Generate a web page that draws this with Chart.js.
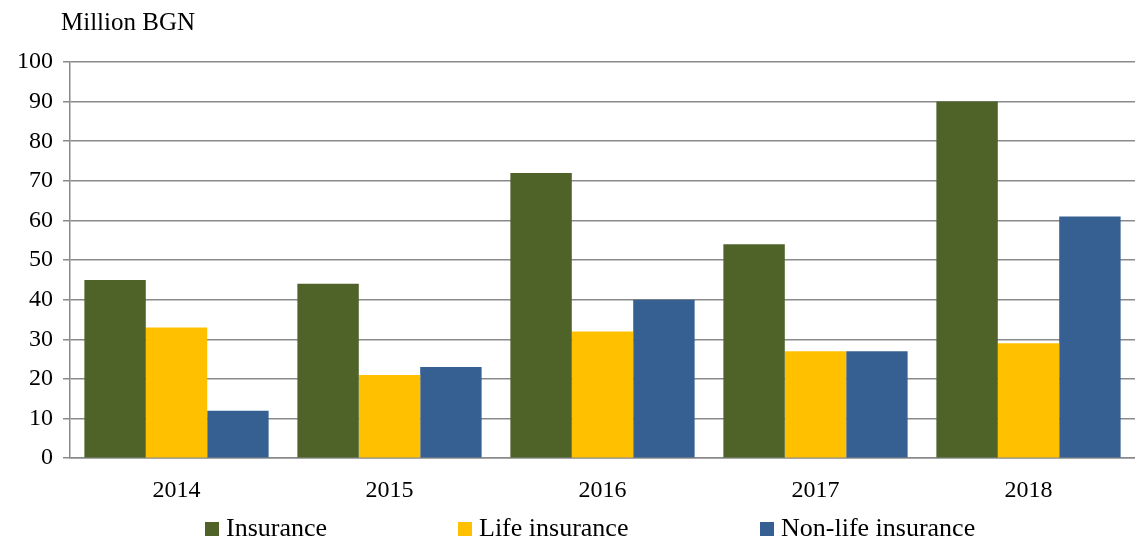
<!DOCTYPE html>
<html>
<head>
<meta charset="utf-8">
<script src="https://cdn.jsdelivr.net/npm/chart.js@4"></script>
<style>
  body { margin: 0; background: #fff; }
  #wrap { position: relative; width: 1135px; height: 538px; font-family: "Liberation Serif", "Times New Roman", serif; overflow: hidden; }
  #unit { position: absolute; left: 61px; top: 8px; font-size: 25px; color: #000; }
  #legend { position: absolute; top: 514px; left: 0; height: 28px; font-size: 26px; color: #000; }
  .item { position: absolute; top: 0; white-space: nowrap; line-height: 28px; }
  .box { display: inline-block; width: 14px; height: 14px; margin-right: 7px; vertical-align: baseline; }
</style>
</head>
<body>
<div id="wrap">
  <canvas id="barChart" width="1135" height="538"></canvas>
  <div id="unit">Million BGN</div>
  <div id="legend"></div>
</div>
<script>
var years = ['2014', '2015', '2016', '2017', '2018'];
var insurance = [45, 44, 72, 54, 90];
var lifeInsurance = [33, 21, 32, 27, 29];
var nonLifeInsurance = [12, 23, 40, 27, 61];
var seriesNames = ['Insurance', 'Life insurance', 'Non-life insurance'];
var seriesColors = ['#4f6228', '#ffc000', '#366092'];
var legendLeft = [205, 458, 760];

var ctx = document.getElementById('barChart').getContext('2d');
var myChart = new Chart(ctx, {
    type: 'bar',
    data: {
        labels: years,
        datasets: [{
            label: seriesNames[0],
            data: insurance,
            backgroundColor: seriesColors[0]
        }, {
            label: seriesNames[1],
            data: lifeInsurance,
            backgroundColor: seriesColors[1]
        }, {
            label: seriesNames[2],
            data: nonLifeInsurance,
            backgroundColor: seriesColors[2]
        }]
    },
    options: {
        responsive: false,
        animation: false,
        layout: { padding: { top: 62, right: 0, bottom: 23, left: 7 } },
        datasets: {
            bar: { categoryPercentage: 0.865, barPercentage: 1.0 }
        },
        plugins: {
            legend: { display: false },
            tooltip: { enabled: false }
        },
        scales: {
            x: {
                grid: { display: false },
                border: { display: true, color: '#8a8a8a', width: 1.5 },
                ticks: {
                    color: '#000',
                    padding: 10,
                    font: { family: 'Liberation Serif', size: 24 }
                }
            },
            y: {
                min: 0,
                max: 100,
                ticks: {
                    stepSize: 10,
                    color: '#000',
                    padding: 10,
                    font: { family: 'Liberation Serif', size: 24 }
                },
                grid: { color: '#8a8a8a', lineWidth: 1.5, tickLength: 7 },
                border: { display: true, color: '#8a8a8a', width: 1.5 }
            }
        }
    }
});

var legend = document.getElementById('legend');
myChart.data.datasets.forEach(function (ds, i) {
    var item = document.createElement('div');
    item.className = 'item';
    item.style.left = legendLeft[i] + 'px';
    var box = document.createElement('span');
    box.className = 'box';
    box.style.background = ds.backgroundColor;
    item.appendChild(box);
    item.appendChild(document.createTextNode(ds.label));
    legend.appendChild(item);
});
</script>
</body>
</html>
